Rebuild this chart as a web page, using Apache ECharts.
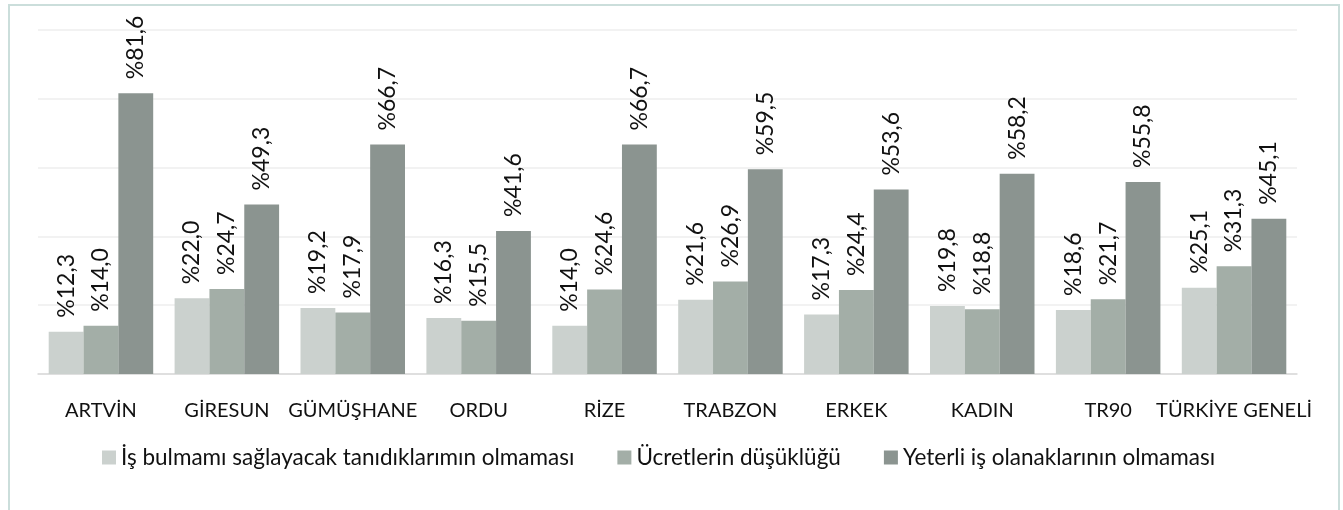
<!DOCTYPE html>
<html>
<head>
<meta charset="utf-8">
<script src="https://cdn.jsdelivr.net/npm/echarts@6/dist/echarts.min.js"></script>
<style>
  html, body { margin: 0; padding: 0; background: #fff; }
  #chart { width: 1343px; height: 510px; }
</style>
</head>
<body>
<div id="chart"></div>
<script>
// categories and the three answer series (percent)
const CATEGORIES = ["ARTVİN", "GİRESUN", "GÜMÜŞHANE", "ORDU", "RİZE", "TRABZON", "ERKEK", "KADIN", "TR90", "TÜRKİYE GENELİ"];
const TANIDIK = [12.3, 22.0, 19.2, 16.3, 14.0, 21.6, 17.3, 19.8, 18.6, 25.1];
const UCRET = [14.0, 24.7, 17.9, 15.5, 24.6, 26.9, 24.4, 18.8, 21.7, 31.3];
const OLANAK = [81.6, 49.3, 66.7, 41.6, 66.7, 59.5, 53.6, 58.2, 55.8, 45.1];
const NAMES = ["İş bulmamı sağlayacak tanıdıklarımın olmaması", "Ücretlerin düşüklüğü", "Yeterli iş olanaklarının olmaması"];
const COLORS = ["#cbd1ce", "#a3aea7", "#8b9490"];

const FONT = "Lato, 'Open Sans', sans-serif";
const fmt = (v) => "%" + v.toFixed(1).replace(".", ",");

function bar(name, data, color) {
  return {
    name, type: "bar", data, barGap: "0%", barCategoryGap: "17%",
    itemStyle: { color },
    label: {
      show: true, position: "top", rotate: 90, align: "left", verticalAlign: "middle",
      distance: 14, formatter: (p) => fmt(p.value),
      fontFamily: FONT, fontSize: 23, color: "#111",
    },
  };
}

const chart = echarts.init(document.getElementById("chart"));
chart.setOption({
  animation: false,
  textStyle: { fontFamily: FONT },
  graphic: [{
    type: "rect", silent: true, z: -1,
    shape: { x: 9, y: 5, width: 1330, height: 600 },
    style: { fill: "none", stroke: "#cbdedb", lineWidth: 2 },
  }],
  grid: { left: 38, right: 46, top: 30, bottom: 136 },
  legend: {
    data: NAMES, top: 441, left: 97, itemWidth: 14, itemHeight: 14, itemGap: 43,
    icon: "rect", textStyle: { fontFamily: FONT, fontSize: 22.5, color: "#111" },
  },
  xAxis: {
    type: "category", data: CATEGORIES,
    axisLine: { lineStyle: { color: "#d9d9d9", width: 1.5 } }, axisTick: { show: false },
    axisLabel: { fontFamily: FONT, fontSize: 20, color: "#111", margin: 27, interval: 0 },
  },
  yAxis: {
    type: "value", min: 0, max: 100, interval: 20,
    axisLabel: { show: false }, axisLine: { show: false }, axisTick: { show: false },
    splitLine: { lineStyle: { color: "#eeeeee", width: 1.5 } },
  },
  series: [bar(NAMES[0], TANIDIK, COLORS[0]), bar(NAMES[1], UCRET, COLORS[1]), bar(NAMES[2], OLANAK, COLORS[2])],
});
</script>
</body>
</html>
